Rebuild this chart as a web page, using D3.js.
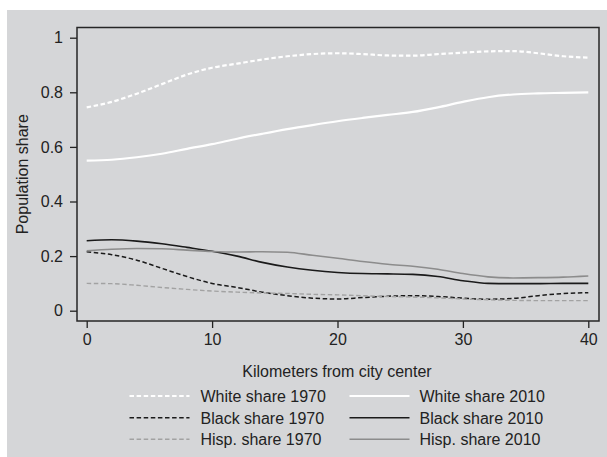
<!DOCTYPE html>
<html>
<head>
<meta charset="utf-8">
<script src="https://cdn.jsdelivr.net/npm/d3@7"></script>
<style>
  html, body { margin: 0; padding: 0; background: #ffffff; }
  svg { display: block; font-family: "Liberation Sans", Arial, Helvetica, sans-serif; }
</style>
</head>
<body>
<svg id="chart" width="607" height="457"></svg>
<script>
// ---- data ----
const km = [0, 2, 4, 6, 8, 10, 12, 14, 16, 18, 20, 22, 24, 26, 28, 30, 32, 34, 36, 38, 40];
const white1970 = [0.745, 0.765, 0.795, 0.83, 0.865, 0.89, 0.905, 0.92, 0.932, 0.94, 0.943, 0.94, 0.935, 0.934, 0.94, 0.945, 0.95, 0.951, 0.943, 0.932, 0.927];
const white2010 = [0.55, 0.553, 0.562, 0.575, 0.593, 0.61, 0.63, 0.648, 0.665, 0.68, 0.694, 0.706, 0.717, 0.728, 0.745, 0.765, 0.782, 0.792, 0.796, 0.798, 0.80];
const black1970 = [0.216, 0.205, 0.185, 0.155, 0.125, 0.10, 0.085, 0.068, 0.055, 0.046, 0.043, 0.048, 0.053, 0.055, 0.052, 0.046, 0.042, 0.045, 0.055, 0.063, 0.066];
const black2010 = [0.256, 0.26, 0.255, 0.245, 0.232, 0.218, 0.2, 0.177, 0.16, 0.148, 0.14, 0.136, 0.135, 0.133, 0.125, 0.11, 0.1, 0.099, 0.099, 0.1, 0.1];
const hisp1970 = [0.10, 0.099, 0.093, 0.085, 0.078, 0.072, 0.068, 0.065, 0.063, 0.06, 0.058, 0.055, 0.052, 0.05, 0.047, 0.043, 0.04, 0.038, 0.037, 0.037, 0.037];
const hisp2010 = [0.219, 0.225, 0.228, 0.227, 0.222, 0.217, 0.215, 0.216, 0.214, 0.203, 0.192, 0.18, 0.17, 0.163, 0.152, 0.136, 0.124, 0.12, 0.121, 0.123, 0.127];
const seriesNames = ["White share 1970", "White share 2010", "Black share 1970", "Black share 2010", "Hisp. share 1970", "Hisp. share 2010"];
const xTicks = [0, 10, 20, 30, 40];
const yTicks = [0, 0.2, 0.4, 0.6, 0.8, 1];
const yTickLabels = ["0", "0.2", "0.4", "0.6", "0.8", "1"];
const xTitle = "Kilometers from city center";
const yTitle = "Population share";

// ---- styles ----
const styles = [
  { color: "#ffffff", width: 2.2, dash: "4.5,2.6" },
  { color: "#ffffff", width: 2.2, dash: null },
  { color: "#1a1a1a", width: 1.5, dash: "4.5,2.6" },
  { color: "#1a1a1a", width: 1.6, dash: null },
  { color: "#a2a2a2", width: 1.4, dash: "4.5,2.6" },
  { color: "#8c8c8c", width: 1.6, dash: null }
];
const values = [white1970, white2010, black1970, black2010, hisp1970, hisp2010];
const FS = "16px";

const svg = d3.select("#chart");
const W = 607, H = 457;

svg.append("rect").attr("x", 7).attr("y", 10).attr("width", W - 7).attr("height", H - 10).attr("fill", "#d5d6d8");

const frame = { left: 77, right: 599, top: 27.5, bottom: 321 };
const x = d3.scaleLinear().domain([0, 40]).range([86.7, 588.3]);
const y = d3.scaleLinear().domain([0, 1]).range([310.7, 37.7]);

// axes
const yAxis = d3.axisLeft(y).tickValues(yTicks).tickFormat((d, i) => yTickLabels[i]).tickSize(7).tickPadding(7);
const gy = svg.append("g").attr("transform", `translate(${frame.left},0)`).call(yAxis);
const xAxis = d3.axisBottom(x).tickValues(xTicks).tickFormat(d3.format("d")).tickSize(7).tickPadding(6);
const gx = svg.append("g").attr("transform", `translate(0,${frame.bottom})`).call(xAxis);
[gx, gy].forEach(g => {
  g.select(".domain").remove();
  g.selectAll(".tick line").attr("stroke", "#222").attr("stroke-width", 1.3);
  g.selectAll(".tick text").attr("fill", "#222").style("font-size", FS).style("font-family", '"Liberation Sans", Arial, sans-serif');
});

// frame
svg.append("rect")
  .attr("x", frame.left).attr("y", frame.top)
  .attr("width", frame.right - frame.left).attr("height", frame.bottom - frame.top)
  .attr("fill", "none").attr("stroke", "#262626").attr("stroke-width", 1.5);

// lines
const line = d3.line().x((d, i) => x(km[i])).y(d => y(d)).curve(d3.curveMonotoneX);
values.forEach((vals, s) => {
  const st = styles[s];
  svg.append("path").datum(vals)
    .attr("d", line)
    .attr("fill", "none")
    .attr("stroke", st.color)
    .attr("stroke-width", st.width)
    .attr("stroke-dasharray", st.dash);
});

// titles
svg.append("text").attr("x", (frame.left + frame.right) / 2 - 1).attr("y", 377)
  .attr("text-anchor", "middle").attr("fill", "#222").style("font-size", FS).text(xTitle);
svg.append("text").attr("transform", `translate(28,${(frame.top + frame.bottom) / 2}) rotate(-90)`)
  .attr("text-anchor", "middle").attr("fill", "#222").style("font-size", FS).text(yTitle);

// legend
const legCols = [{ x1: 129.5, x2: 189.5, tx: 200.5 }, { x1: 349.5, x2: 409.5, tx: 419.5 }];
const legRows = [396, 417.8, 439.2];
seriesNames.forEach((name, s) => {
  const c = legCols[s % 2], r = legRows[Math.floor(s / 2)];
  const st = styles[s];
  svg.append("line").attr("x1", c.x1).attr("x2", c.x2).attr("y1", r).attr("y2", r)
    .attr("stroke", st.color).attr("stroke-width", st.width).attr("stroke-dasharray", st.dash);
  svg.append("text").attr("x", c.tx).attr("y", r + 6).attr("fill", "#222")
    .style("font-size", FS).text(name);
});
</script>
</body>
</html>
